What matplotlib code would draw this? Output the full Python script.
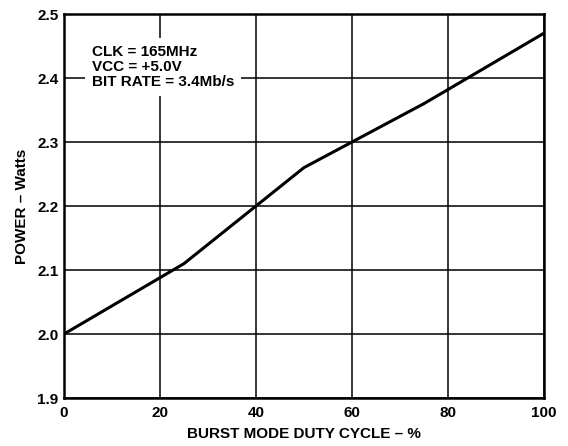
import matplotlib
matplotlib.use('Agg')
import matplotlib.pyplot as plt

plt.rcParams['font.family'] = ['Liberation Sans', 'DejaVu Sans']
plt.rcParams['font.weight'] = 'bold'

# curve
duty_cycle = [0, 25, 40, 50, 60, 75, 100]
power = [2.00, 2.11, 2.20, 2.26, 2.30, 2.36, 2.47]

x_ticks = [0, 20, 40, 60, 80, 100]
y_ticks = [1.9, 2.0, 2.1, 2.2, 2.3, 2.4, 2.5]

fig = plt.figure(figsize=(5.68, 4.46), dpi=100)
ax = fig.add_axes([0.1127, 0.1076, 0.845, 0.861])

ax.plot(duty_cycle, power, color='black', linewidth=2.2, zorder=3)

ax.set_xlim(0, 100)
ax.set_ylim(1.9, 2.5)
ax.set_xticks(x_ticks)
ax.set_yticks(y_ticks)
ax.set_xticklabels([str(t) for t in x_ticks])
ax.set_yticklabels(['%.1f' % t for t in y_ticks])
ax.grid(True, color='black', linewidth=1.1)
ax.tick_params(length=0, labelsize=11)
ax.tick_params(axis='x', pad=6)
ax.tick_params(axis='y', pad=4)
for s in ax.spines.values():
    s.set_linewidth(1.8)

ax.set_xlabel('BURST MODE DUTY CYCLE – %', fontsize=11, fontweight='bold', labelpad=5)
ax.set_ylabel('POWER – Watts', fontsize=11, fontweight='bold', labelpad=6)

ax.text(5.8, 2.452, 'CLK = 165MHz\nVCC = +5.0V\nBIT RATE = 3.4Mb/s',
        fontsize=11, fontweight='bold', va='top', ha='left', linespacing=1.1,
        bbox=dict(facecolor='white', edgecolor='none', pad=5), zorder=4)

fig.savefig('out.png', dpi=100)
